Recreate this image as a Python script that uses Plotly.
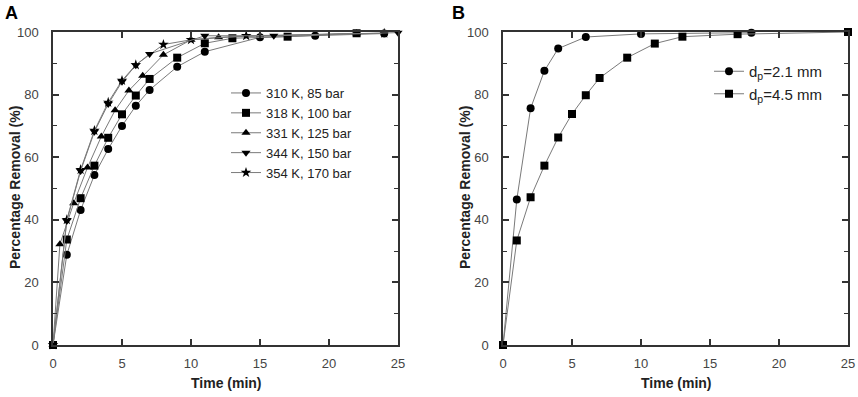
import plotly.graph_objects as go

# ---- Panel A data ----
a_labels = ["310 K, 85 bar", "318 K, 100 bar", "331 K, 125 bar", "344 K, 150 bar", "354 K, 170 bar"]
a_symbols = ["circle", "square", "triangle-up", "triangle-down", "star"]

t_310 = [0, 1, 2, 3, 4, 5, 6, 7, 9, 11, 15, 19, 24]
y_310 = [0, 28.8, 43.1, 54.3, 62.6, 70.0, 76.4, 81.5, 88.9, 93.7, 98.3, 98.8, 99.5]

t_318 = [0, 1, 2, 3, 4, 5, 6, 7, 9, 11, 13, 17, 22]
y_318 = [0, 33.7, 46.9, 57.3, 66.2, 73.7, 79.7, 85.0, 91.8, 96.4, 98.0, 98.5, 99.6]

t_331 = [0, 0.5, 1.5, 2.5, 3.5, 4.5, 5.5, 6.5, 8, 10, 12, 22]
y_331 = [0, 32.2, 45.3, 56.7, 66.6, 75.0, 81.3, 86.0, 92.7, 97.5, 98.3, 99.6]

t_344 = [0, 1, 2, 3, 4, 5, 6, 7, 11, 16, 25]
y_344 = [0, 39.6, 55.6, 68.1, 77.0, 84.1, 89.4, 93.0, 98.8, 98.8, 99.8]

t_354 = [0, 1, 2, 3, 4, 5, 6, 8, 10, 14, 24]
y_354 = [0, 40.0, 56.0, 68.5, 77.5, 84.5, 89.5, 96.0, 97.5, 98.8, 99.6]

# ---- Panel B data ----
b_labels = ["d<sub>p</sub>=2.1 mm", "d<sub>p</sub>=4.5 mm"]
b_symbols = ["circle", "square"]

t_21 = [0, 1, 2, 3, 4, 6, 10, 18]
y_21 = [0, 46.5, 75.6, 87.6, 94.7, 98.4, 99.4, 99.8]

t_45 = [0, 1, 2, 3, 4, 5, 6, 7, 9, 11, 13, 17, 25]
y_45 = [0, 33.4, 47.2, 57.3, 66.3, 73.8, 79.8, 85.3, 91.8, 96.3, 98.5, 99.3, 100]

x_ticks = [0, 5, 10, 15, 20, 25]
y_ticks = [0, 20, 40, 60, 80, 100]

FONT = "Liberation Sans, Arial, sans-serif"
LINE_C = "#7a7a7a"
AXIS_C = "#333333"

W, H = 858, 397


def px(x):
    return x / W


def py(y):
    return 1 - y / H


fig = go.Figure()

a_series = [(t_310, y_310), (t_318, y_318), (t_331, y_331), (t_344, y_344), (t_354, y_354)]
# draw the star series beneath the down-triangles (as in the source), keep legend order
draw_order = [0, 1, 2, 4, 3]
for i in draw_order:
    tx, ty = a_series[i]
    sym = a_symbols[i]
    fig.add_trace(go.Scatter(
        x=tx, y=ty, name=a_labels[i], mode="lines+markers", legendrank=1000 + i,
        line=dict(color=LINE_C, width=1),
        marker=dict(symbol=sym, color="black", size=8, line=dict(width=0)),
        xaxis="x", yaxis="y", legend="legend", cliponaxis=False,
    ))

b_series = [(t_21, y_21), (t_45, y_45)]
for (tx, ty), lab, sym in zip(b_series, b_labels, b_symbols):
    fig.add_trace(go.Scatter(
        x=tx, y=ty, name=lab, mode="lines+markers",
        line=dict(color=LINE_C, width=1),
        marker=dict(symbol=sym, color="black", size=8, line=dict(width=0)),
        xaxis="x2", yaxis="y2", legend="legend2", cliponaxis=False,
    ))

ax_common = dict(
    showgrid=False, zeroline=False, showline=True, linecolor=AXIS_C, linewidth=1.5,
    mirror="ticks", ticks="inside", ticklen=6, tickwidth=1.5, tickcolor=AXIS_C,
    tickfont=dict(family=FONT, size=13, color="#444444"),
    automargin=False,
)
yd = [py(345), py(32)]

fig.update_layout(
    width=W, height=H,
    margin=dict(l=0, r=0, t=0, b=0),
    paper_bgcolor="white", plot_bgcolor="white",
    font=dict(family=FONT, color="#222222"),
    xaxis=dict(domain=[px(53), px(398)], range=[0, 25], tickvals=x_ticks,
               ticklabelstandoff=6, anchor="y", **ax_common),
    yaxis=dict(domain=yd, range=[0, 100], tickvals=y_ticks, ticklabelstandoff=10,
               minor=dict(ticks="inside", ticklen=4, tickwidth=1, tickcolor=AXIS_C, dtick=10, showgrid=False),
               anchor="x", **ax_common),
    xaxis2=dict(domain=[px(503), px(848)], range=[0, 25], tickvals=x_ticks,
                ticklabelstandoff=6, anchor="y2", **ax_common),
    yaxis2=dict(domain=yd, range=[0, 100], tickvals=y_ticks, ticklabelstandoff=10,
                minor=dict(ticks="inside", ticklen=4, tickwidth=1, tickcolor=AXIS_C, dtick=10, showgrid=False),
                anchor="x2", **ax_common),
    legend=dict(x=px(226), y=py(78), xanchor="left", yanchor="top",
                bgcolor="rgba(0,0,0,0)", font=dict(family=FONT, size=13, color="#222222"),
                tracegroupgap=0, itemwidth=30),
    legend2=dict(x=px(709), y=py(55), xanchor="left", yanchor="top",
                 bgcolor="rgba(0,0,0,0)", font=dict(family=FONT, size=15, color="#222222"),
                 tracegroupgap=0, itemwidth=30),
    showlegend=True,
)

annotations = [
    dict(text="<b>A</b>", x=px(3), y=py(1), xref="paper", yref="paper",
         xanchor="left", yanchor="top", showarrow=False, font=dict(family=FONT, size=18, color="black")),
    dict(text="<b>B</b>", x=px(450), y=py(1), xref="paper", yref="paper",
         xanchor="left", yanchor="top", showarrow=False, font=dict(family=FONT, size=18, color="black")),
    dict(text="<b>Percentage Removal (%)</b>", x=px(15), y=py(188), xref="paper", yref="paper",
         xanchor="center", yanchor="middle", textangle=-90, showarrow=False,
         font=dict(family=FONT, size=14, color="#222222")),
    dict(text="<b>Percentage Removal (%)</b>", x=px(465), y=py(188), xref="paper", yref="paper",
         xanchor="center", yanchor="middle", textangle=-90, showarrow=False,
         font=dict(family=FONT, size=14, color="#222222")),
    dict(text="<b>Time (min)</b>", x=px(226), y=py(383), xref="paper", yref="paper",
         xanchor="center", yanchor="middle", showarrow=False,
         font=dict(family=FONT, size=14, color="#222222")),
    dict(text="<b>Time (min)</b>", x=px(676), y=py(383), xref="paper", yref="paper",
         xanchor="center", yanchor="middle", showarrow=False,
         font=dict(family=FONT, size=14, color="#222222")),
]
fig.update_layout(annotations=annotations)

# remove the default 8px page margin so the figure fills the window exactly
fig.write_html("out.html", config={"displayModeBar": False},
               post_script="document.body.style.margin='0px';")
